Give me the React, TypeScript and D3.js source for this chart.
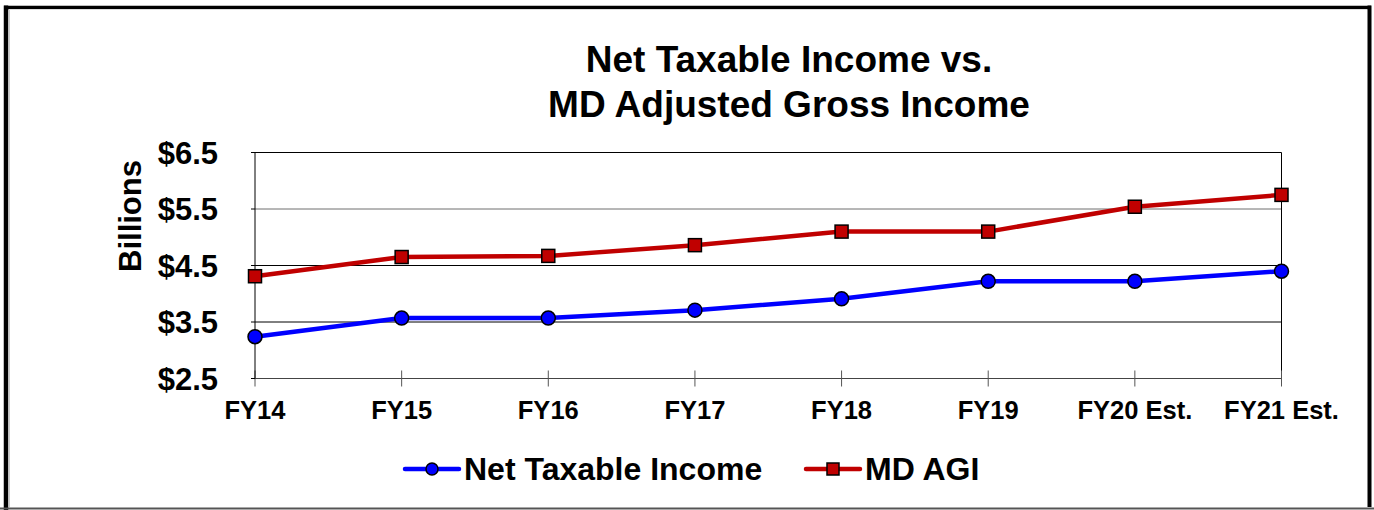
import * as d3 from "d3";
import { useEffect, useRef } from "react";

const categories = ["FY14", "FY15", "FY16", "FY17", "FY18", "FY19", "FY20 Est.", "FY21 Est."];
const netTaxableIncome = [3.24, 3.57, 3.57, 3.71, 3.91, 4.22, 4.22, 4.4];
const mdAgi = [4.31, 4.65, 4.67, 4.86, 5.1, 5.1, 5.54, 5.75];
const yTicks = [2.5, 3.5, 4.5, 5.5, 6.5];
const titleLines = ["Net Taxable Income vs.", "MD Adjusted Gross Income"];

const BLUE = "#0000ff";
const RED = "#c00000";
const FONT = "'Liberation Sans', Arial, sans-serif";

export default function App() {
    const svgRef = useRef<SVGSVGElement>(null);
    const svgWidth = 1374;
    const svgHeight = 510;
    const plotLeft = 255;
    const plotRight = 1281.5;
    const plotTop = 152.5;
    const plotBottom = 378.5;

    useEffect(() => {
        if (svgRef.current) {
            drawChart();
        }
    }, [svgRef]);

    const drawChart = () => {
        const svg = d3.select(svgRef.current);
        svg.selectAll("*").remove();

        var scaleX = d3.scalePoint().domain(categories).range([plotLeft, plotRight]);
        var scaleY = d3.scaleLinear().domain([2.5, 6.5]).range([plotBottom, plotTop]);

        drawFrame(svg);
        drawTitle(svg);
        drawGrid(svg, scaleX, scaleY);
        drawAxis(svg, scaleX, scaleY);
        drawSeries(svg, scaleX, scaleY, netTaxableIncome, BLUE, "circle");
        drawSeries(svg, scaleX, scaleY, mdAgi, RED, "square");
        drawLegend(svg);
    };

    const drawFrame = (svg: any) => {
        // outer border of the chart
        svg.append("rect").attr("width", svgWidth).attr("height", svgHeight).attr("fill", "#ffffff");
        svg.append("line").attr("x1", 6).attr("x2", 6).attr("y1", 5.5).attr("y2", 510)
            .attr("stroke", "#000").attr("stroke-width", 4.5);
        svg.append("line").attr("x1", 4).attr("x2", 1371).attr("y1", 7.5).attr("y2", 7.5)
            .attr("stroke", "#000").attr("stroke-width", 3.5);
        svg.append("line").attr("x1", 1369.5).attr("x2", 1369.5).attr("y1", 5.5).attr("y2", 507)
            .attr("stroke", "#000").attr("stroke-width", 4);
        svg.append("line").attr("x1", 9.5).attr("x2", 9.5).attr("y1", 9.5).attr("y2", 507)
            .attr("stroke", "#cccccc").attr("stroke-width", 1);
        svg.append("line").attr("x1", 9).attr("x2", 1367).attr("y1", 9.5).attr("y2", 9.5)
            .attr("stroke", "#dddddd").attr("stroke-width", 1);
        svg.append("line").attr("x1", 0).attr("x2", svgWidth).attr("y1", 508.5).attr("y2", 508.5)
            .attr("stroke", "#555555").attr("stroke-width", 2);
    };

    const drawTitle = (svg: any) => {
        svg.append("g")
            .selectAll("text")
            .data(titleLines)
            .join("text")
            .attr("x", 789)
            .attr("y", (d: string, i: number) => 72 + i * 45)
            .attr("text-anchor", "middle")
            .attr("font-family", FONT)
            .attr("font-weight", "bold")
            .attr("font-size", 37)
            .attr("fill", "#000")
            .text((d: string) => d);
    };

    const drawGrid = (svg: any, scaleX: any, scaleY: any) => {
        // horizontal grid lines
        svg.append("g")
            .selectAll("line")
            .data(yTicks.slice(1))
            .join("line")
            .attr("x1", plotLeft)
            .attr("x2", plotRight)
            .attr("y1", (d: number) => scaleY(d))
            .attr("y2", (d: number) => scaleY(d))
            .attr("stroke", (d: number) => (d === 5.5 ? "#6e6e6e" : "#000"))
            .attr("stroke-width", 1);
        // right side of plot area
        svg.append("line")
            .attr("x1", plotRight).attr("x2", plotRight)
            .attr("y1", plotTop).attr("y2", plotBottom)
            .attr("stroke", "#000").attr("stroke-width", 1);
    };

    const drawAxis = (svg: any, scaleX: any, scaleY: any) => {
        // x axis with crossing ticks
        const xAxis = svg.append("g").attr("transform", "translate(0," + plotBottom + ")");
        xAxis.append("line").attr("x1", plotLeft).attr("x2", plotRight)
            .attr("stroke", "#444").attr("stroke-width", 1);
        xAxis.selectAll("line.tick")
            .data(categories)
            .join("line")
            .classed("tick", true)
            .attr("x1", (d: string) => scaleX(d))
            .attr("x2", (d: string) => scaleX(d))
            .attr("y1", -8)
            .attr("y2", 8)
            .attr("stroke", "#555")
            .attr("stroke-width", 1);
        xAxis.selectAll("text")
            .data(categories)
            .join("text")
            .attr("x", (d: string) => scaleX(d))
            .attr("y", 40)
            .attr("text-anchor", "middle")
            .attr("font-family", FONT)
            .attr("font-weight", "bold")
            .attr("font-size", 25.5)
            .attr("fill", "#000")
            .text((d: string) => d);

        // y axis
        const yAxis = svg.append("g");
        yAxis.append("line").attr("x1", plotLeft).attr("x2", plotLeft)
            .attr("y1", plotTop).attr("y2", plotBottom)
            .attr("stroke", "#000").attr("stroke-width", 1);
        yAxis.selectAll("line.tick")
            .data(yTicks)
            .join("line")
            .classed("tick", true)
            .attr("x1", plotLeft - 4)
            .attr("x2", plotLeft)
            .attr("y1", (d: number) => scaleY(d))
            .attr("y2", (d: number) => scaleY(d))
            .attr("stroke", "#000");
        yAxis.selectAll("text")
            .data(yTicks)
            .join("text")
            .attr("x", 218)
            .attr("y", (d: number) => scaleY(d))
            .attr("dy", "0.36em")
            .attr("text-anchor", "end")
            .attr("font-family", FONT)
            .attr("font-weight", "bold")
            .attr("font-size", 31)
            .attr("fill", "#000")
            .text((d: number) => "$" + d3.format(".1f")(d));

        svg.append("text")
            .attr("transform", "translate(141,216) rotate(-90)")
            .attr("text-anchor", "middle")
            .attr("font-family", FONT)
            .attr("font-weight", "bold")
            .attr("font-size", 31)
            .attr("fill", "#000")
            .text("Billions");
    };

    const drawMarker = (g: any, x: number, y: number, color: string, shape: string, size: number) => {
        if (shape === "circle") {
            g.append("circle").attr("cx", x).attr("cy", y).attr("r", size / 2)
                .attr("fill", color).attr("stroke", "#000").attr("stroke-width", 1.5);
        } else {
            g.append("rect").attr("x", x - size / 2).attr("y", y - size / 2)
                .attr("width", size).attr("height", size)
                .attr("fill", color).attr("stroke", "#000").attr("stroke-width", 1.5);
        }
    };

    const drawSeries = (svg: any, scaleX: any, scaleY: any, values: number[], color: string, shape: string) => {
        const g = svg.append("g");
        g.append("path")
            .datum(values)
            .attr("fill", "none")
            .attr("stroke", color)
            .attr("stroke-width", 4.5)
            .attr("stroke-linejoin", "round")
            .attr(
                "d",
                d3.line<number>()
                    .x((d, i) => scaleX(categories[i]))
                    .y((d) => scaleY(d))
            );
        values.forEach((v, i) => {
            drawMarker(g, scaleX(categories[i]), scaleY(v), color, shape, shape === "circle" ? 14 : 13);
        });
    };

    const drawLegend = (svg: any) => {
        const items = [
            { label: "Net Taxable Income", color: BLUE, shape: "circle", x: 405 },
            { label: "MD AGI", color: RED, shape: "square", x: 806 },
        ];
        items.forEach((item) => {
            const g = svg.append("g");
            g.append("line").attr("x1", item.x).attr("x2", item.x + 54)
                .attr("y1", 469).attr("y2", 469)
                .attr("stroke", item.color).attr("stroke-width", 4.5).attr("stroke-linecap", "round");
            drawMarker(g, item.x + 27, 469, item.color, item.shape, 12);
            g.append("text")
                .attr("x", item.x + 59)
                .attr("y", 480)
                .attr("font-family", FONT)
                .attr("font-weight", "bold")
                .attr("font-size", 32)
                .attr("fill", "#000")
                .text(item.label);
        });
    };

    return (
        <svg
            ref={svgRef}
            width={svgWidth}
            height={svgHeight}
            style={{ position: "absolute", left: 0, top: 0, display: "block" }}
        />
    );
}
